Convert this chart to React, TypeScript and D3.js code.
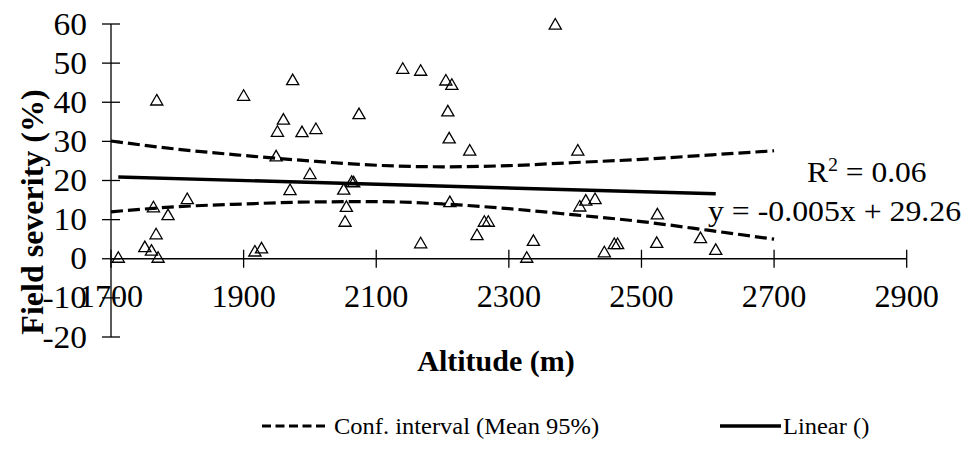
import React from "react";
import * as d3 from "d3";

const altitude = [1711, 1751, 1761, 1764, 1768, 1769, 1771, 1786, 1815, 1900, 1917, 1927, 1949, 1951, 1960, 1970, 1974, 1988, 2000, 2009, 2051, 2053, 2055, 2063, 2066, 2074, 2140, 2167, 2167, 2205, 2208, 2210, 2211, 2214, 2241, 2252, 2263, 2269, 2327, 2337, 2370, 2404, 2407, 2416, 2430, 2444, 2459, 2464, 2523, 2524, 2589, 2612];
const severity = [0, 2.7, 1.8, 12.9, 6.0, 40.2, 0, 10.9, 15.0, 41.4, 1.6, 2.4, 25.9, 32.2, 35.3, 17.3, 45.4, 32.1, 21.4, 32.9, 17.4, 9.2, 13.0, 19.4, 19.3, 36.7, 48.3, 47.8, 3.7, 45.3, 37.4, 30.5, 14.2, 44.2, 27.4, 5.8, 9.2, 9.2, 0, 4.3, 59.6, 27.4, 13.1, 14.6, 15.0, 1.4, 3.5, 3.5, 3.8, 11.1, 5.0, 2.0];

const ciX = [1700, 1800, 1900, 2000, 2100, 2200, 2300, 2400, 2500, 2600, 2700];
const ciUpper = [30.1, 28.0, 26.4, 25.0, 23.9, 23.5, 23.8, 24.6, 25.4, 26.5, 27.6];
const ciLower = [12.0, 13.3, 14.0, 14.5, 14.6, 14.0, 12.8, 11.2, 9.5, 7.3, 5.0];

const linearX = [1711, 2612];
const linearY = [20.9, 16.6];

const xTicks = [1700, 1900, 2100, 2300, 2500, 2700, 2900];
const yTicks = [-20, -10, 0, 10, 20, 30, 40, 50, 60];

const W = 967;
const H = 451;
const FONT = '"Liberation Serif", "Times New Roman", Times, serif';

type TProps = {
  x: number;
  y: number;
  size: number;
  anchor?: "start" | "middle" | "end";
  weight?: string;
  sx?: number;
  rotate?: number;
  children: React.ReactNode;
};

function T({ x, y, size, anchor = "start", weight = "normal", sx = 1, rotate = 0, children }: TProps) {
  return (
    <text
      transform={`translate(${x},${y}) rotate(${rotate}) scale(${sx},1)`}
      textAnchor={anchor}
      fontSize={size}
      fontWeight={weight}
      style={{ fontFamily: FONT }}
      fill="#000"
    >
      {children}
    </text>
  );
}

export default function App() {
  const x = d3.scaleLinear().domain([1700, 2900]).range([111, 906.7]);
  const y = d3.scaleLinear().domain([-20, 60]).range([337, 24]);

  const ciLine = (vals: number[]) =>
    d3
      .line<number>()
      .x((_, i) => x(ciX[i]))
      .y((v) => y(v))
      .curve(d3.curveMonotoneX)(vals) || "";

  const linPath =
    d3
      .line<number>()
      .x((_, i) => x(linearX[i]))
      .y((v) => y(v))(linearY) || "";

  const tri = d3.symbol().type(d3.symbolTriangle).size(64)() || "";

  const x0 = x(1700);
  const y0 = y(0);

  return (
    <svg
      width={W}
      height={H}
      style={{ position: "fixed", left: 0, top: 0, background: "#fff", fontFamily: FONT }}
    >
      <rect x={0} y={0} width={W} height={H} fill="#fff" />
      {/* y axis */}
      <line x1={x0} x2={x0} y1={y(60)} y2={y(-20)} stroke="#000" strokeWidth={1.3} />
      {yTicks.map((t) => (
        <g key={"y" + t}>
          <line x1={x0 - 9} x2={x0 + 9} y1={y(t)} y2={y(t)} stroke="#000" strokeWidth={1.3} />
          <T x={87} y={y(t) + 10.5} size={31} anchor="end" sx={1.08}>
            {t}
          </T>
        </g>
      ))}
      {/* x axis at y=0 */}
      <line x1={x0} x2={x(2900)} y1={y0} y2={y0} stroke="#000" strokeWidth={1.3} />
      {xTicks.map((t) => (
        <g key={"x" + t}>
          <line x1={x(t)} x2={x(t)} y1={y0 - 9} y2={y0 + 9} stroke="#000" strokeWidth={1.3} />
          <T x={x(t)} y={306.5} size={31} anchor="middle" sx={1.04}>
            {t}
          </T>
        </g>
      ))}

      {/* confidence interval */}
      <path d={ciLine(ciUpper)} fill="none" stroke="#000" strokeWidth={3.2} strokeDasharray="12,5" />
      <path d={ciLine(ciLower)} fill="none" stroke="#000" strokeWidth={3.2} strokeDasharray="12,5" />
      {/* linear */}
      <path d={linPath} fill="none" stroke="#000" strokeWidth={3.4} />

      {/* points */}
      {altitude.map((a, i) => (
        <path
          key={"p" + i}
          d={tri}
          transform={`translate(${x(a)},${y(severity[i])})`}
          fill="none"
          stroke="#000"
          strokeWidth={1.3}
        />
      ))}

      {/* annotations */}
      <T x={807} y={182} size={30} sx={1.05}>
        R<tspan fontSize={19} dy={-11}>2</tspan>
        <tspan dy={11}> = 0.06</tspan>
      </T>
      <T x={708} y={221} size={30} sx={1.06}>
        y = -0.005x + 29.26
      </T>

      {/* axis titles */}
      <T x={43} y={212} size={32} anchor="middle" weight="bold" rotate={-90}>
        Field severity (%)
      </T>
      <T x={496} y={371} size={30} anchor="middle" weight="bold">
        Altitude (m)
      </T>

      {/* legend */}
      <line x1={262} x2={328} y1={426} y2={426} stroke="#000" strokeWidth={3.2} strokeDasharray="9,4.5" />
      <T x={334} y={434} size={24} sx={1.02}>
        Conf. interval (Mean 95%)
      </T>
      <line x1={720} x2={781} y1={426} y2={426} stroke="#000" strokeWidth={3.4} />
      <T x={783} y={434} size={24} sx={1.02}>
        Linear ()
      </T>
    </svg>
  );
}
